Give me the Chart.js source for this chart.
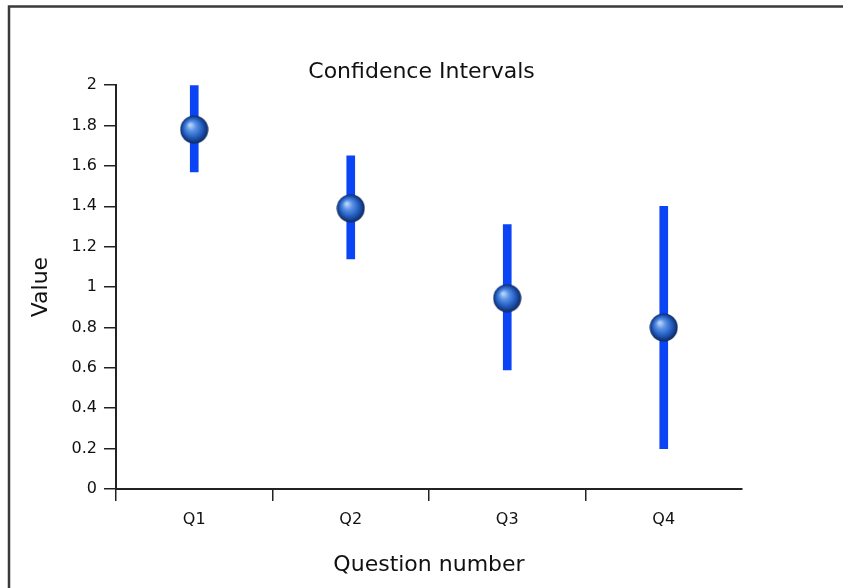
<!DOCTYPE html>
<html>
<head>
<meta charset="utf-8">
<script src="https://cdn.jsdelivr.net/npm/chart.js@4"></script>
<style>
  html, body { margin: 0; padding: 0; background: #ffffff; }
  #wrap { width: 843px; height: 588px; }
</style>
</head>
<body>
<div id="wrap"><canvas id="c" width="843" height="588"></canvas></div>
<script>
const categories = ['Q1', 'Q2', 'Q3', 'Q4'];
const means = [1.78, 1.39, 0.945, 0.80];
const lower = [1.57, 1.14, 0.59, 0.20];
const upper = [2.0, 1.65, 1.31, 1.40];
const yMin = 0, yMax = 2, yStep = 0.2;

function makeSphere(d) {
  const cv = document.createElement('canvas');
  cv.width = d; cv.height = d;
  const c = cv.getContext('2d');
  const r = d / 2;
  const g = c.createRadialGradient(r * 0.72, r * 0.68, 1, r, r, r);
  g.addColorStop(0, '#b4d0fa');
  g.addColorStop(0.28, '#5a92e4');
  g.addColorStop(0.62, '#2660c4');
  g.addColorStop(1, '#0a2358');
  c.fillStyle = g;
  c.beginPath();
  c.arc(r, r, r - 0.5, 0, Math.PI * 2);
  c.fill();
  return cv;
}
const sphere = makeSphere(29);

const framePlugin = {
  id: 'frame',
  afterDraw(chart) {
    const ctx = chart.ctx;
    ctx.save();
    ctx.strokeStyle = '#3a3a3a';
    ctx.lineWidth = 2.5;
    ctx.beginPath();
    ctx.moveTo(9, 588);
    ctx.lineTo(9, 6.5);
    ctx.lineTo(843, 6.5);
    ctx.stroke();
    ctx.restore();
  }
};

const FAMILY = "'DejaVu Sans', 'Liberation Sans', Arial, sans-serif";
const tickFont = { family: FAMILY, size: 16 };

new Chart(document.getElementById('c'), {
  type: 'bar',
  data: {
    labels: categories,
    datasets: [
      {
        type: 'line',
        label: 'Mean',
        data: means,
        showLine: false,
        pointStyle: sphere,
        pointRadius: 14,
        order: 1
      },
      {
        type: 'bar',
        label: 'Interval',
        data: lower.map((v, i) => [v, upper[i]]),
        backgroundColor: '#0b44f4',
        borderWidth: 0,
        barThickness: 8,
        order: 2
      }
    ]
  },
  options: {
    responsive: false,
    animation: false,
    layout: { padding: { left: 0, right: 0, top: 52, bottom: 0 } },
    plugins: {
      legend: { display: false },
      tooltip: { enabled: false },
      title: {
        display: true,
        text: 'Confidence Intervals',
        color: '#111',
        font: { family: FAMILY, size: 22, weight: 'normal', lineHeight: 1.1 },
        padding: { top: 8, bottom: 1 }
      }
    },
    scales: {
      x: {
        offset: true,
        afterFit(scale) { scale.height = 99; },
        grid: {
          offset: true,
          drawOnChartArea: false,
          drawTicks: true,
          tickLength: 12,
          lineWidth: 1.5,
          color: (ctx) => ctx.type === 'tick' ? '#222' : 'rgba(0,0,0,0)'
        },
        border: { display: true, color: '#222', width: 2 },
        ticks: { color: '#111', font: tickFont, padding: 9 },
        title: {
          display: true,
          text: 'Question number',
          color: '#111',
          font: { family: FAMILY, size: 22 },
          padding: { top: 0, bottom: 10 }
        }
      },
      y: {
        min: yMin,
        max: yMax,
        afterFit(scale) { scale.width = 116; },
        grid: {
          drawOnChartArea: false,
          drawTicks: true,
          tickLength: 12,
          lineWidth: 1.5,
          color: '#222'
        },
        border: { display: true, color: '#222', width: 2 },
        ticks: {
          stepSize: yStep,
          color: '#111',
          font: tickFont,
          padding: 7,
          callback: (v) => String(+v.toFixed(1))
        },
        title: {
          display: true,
          text: 'Value',
          color: '#111',
          font: { family: FAMILY, size: 22 },
          padding: { top: 28, bottom: 0 }
        }
      },
      yRight: {
        position: 'right',
        display: true,
        min: yMin,
        max: yMax,
        afterFit(scale) { scale.width = 101; },
        grid: { display: false, drawTicks: false },
        border: { display: false },
        ticks: { display: false },
        title: { display: false }
      }
    }
  },
  plugins: [framePlugin]
});
</script>
</body>
</html>
